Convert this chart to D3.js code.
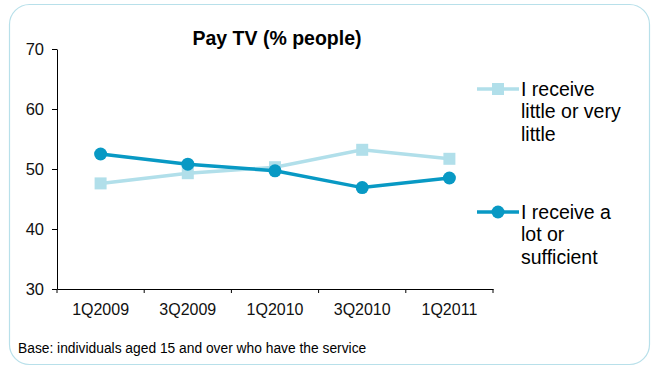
<!DOCTYPE html>
<html>
<head>
<meta charset="utf-8">
<script src="https://cdn.jsdelivr.net/npm/d3@7"></script>
<style>
  html, body { margin: 0; padding: 0; background: #fff; }
  svg { display: block; font-family: "Liberation Sans", Arial, sans-serif; }
</style>
</head>
<body>
<svg id="chart" width="651" height="367"></svg>
<script>
// Pay TV survey: share of people by perceived amount of service received
const periods = ["1Q2009", "3Q2009", "1Q2010", "3Q2010", "1Q2011"];
const littleValues = [47.6, 49.3, 50.3, 53.2, 51.7];
const lotValues = [52.5, 50.8, 49.7, 46.9, 48.5];
const seriesNames = [
  ["I receive", "little or very", "little"],
  ["I receive a", "lot or", "sufficient"]
];
const yTicks = [30, 40, 50, 60, 70];

const lightBlue = "#b1dfea";
const darkBlue = "#0899c4";

const svg = d3.select("#chart");

// rounded frame
svg.append("rect")
  .attr("x", 9.5).attr("y", 4.5)
  .attr("width", 640).attr("height", 360)
  .attr("rx", 20).attr("ry", 20)
  .attr("fill", "#fff")
  .attr("stroke", "#b8e0ea")
  .attr("stroke-width", 1.2);

const plot = { left: 57, right: 493, top: 49, bottom: 289 };

const x = d3.scaleBand().domain(periods).range([plot.left, plot.right]);
const y = d3.scaleLinear().domain([30, 70]).range([plot.bottom, plot.top]);
const cx = d => x(d) + x.bandwidth() / 2;

// axes
const yAxis = svg.append("g")
  .attr("transform", `translate(${plot.left},0)`)
  .call(d3.axisLeft(y).tickValues(yTicks).tickSize(5).tickSizeOuter(0).tickPadding(8));
const xAxis = svg.append("g")
  .attr("transform", `translate(0,${plot.bottom})`)
  .call(d3.axisBottom(x).tickSize(0).tickPadding(14.5));

// x ticks sit on band boundaries
const bounds = periods.map(p => x(p)).concat([plot.right]);
xAxis.selectAll(".bound").data(bounds).enter().append("line")
  .attr("x1", d => d).attr("x2", d => d)
  .attr("y1", 0).attr("y2", 4)
  .attr("stroke", "#000");

[xAxis, yAxis].forEach(g => {
  g.select(".domain").attr("stroke", "#000").attr("stroke-width", 1);
  g.selectAll(".tick line").attr("stroke", "#000");
  g.selectAll("text")
    .style("font-family", "'Liberation Sans', Arial, sans-serif")
    .style("font-size", "16px")
    .attr("fill", "#111");
});
yAxis.selectAll("text").style("font-size", "16.5px");

// title
svg.append("text")
  .attr("x", 277).attr("y", 44.5)
  .attr("text-anchor", "middle")
  .style("font-size", "19.5px").attr("font-weight", "bold")
  .text("Pay TV (% people)");

const line = d3.line().x((d, i) => cx(periods[i])).y(d => y(d));

// light series: squares
svg.append("path").datum(littleValues)
  .attr("d", line).attr("fill", "none")
  .attr("stroke", lightBlue).attr("stroke-width", 3.5);
svg.selectAll(".sq").data(littleValues).enter().append("rect")
  .attr("x", (d, i) => cx(periods[i]) - 6)
  .attr("y", d => y(d) - 6)
  .attr("width", 12).attr("height", 12)
  .attr("fill", lightBlue);

// dark series: circles
svg.append("path").datum(lotValues)
  .attr("d", line).attr("fill", "none")
  .attr("stroke", darkBlue).attr("stroke-width", 3.5);
svg.selectAll(".dot").data(lotValues).enter().append("circle")
  .attr("cx", (d, i) => cx(periods[i]))
  .attr("cy", d => y(d))
  .attr("r", 6.5)
  .attr("fill", darkBlue);

// legend
const legendRows = [
  { y: 89, color: lightBlue, shape: "square", lines: seriesNames[0] },
  { y: 212, color: darkBlue, shape: "circle", lines: seriesNames[1] }
];
legendRows.forEach(r => {
  const g = svg.append("g");
  g.append("line")
    .attr("x1", 477).attr("x2", 519)
    .attr("y1", r.y).attr("y2", r.y)
    .attr("stroke", r.color).attr("stroke-width", 3.5);
  if (r.shape === "square") {
    g.append("rect").attr("x", 492).attr("y", r.y - 6)
      .attr("width", 12).attr("height", 12).attr("fill", r.color);
  } else {
    g.append("circle").attr("cx", 498).attr("cy", r.y).attr("r", 6.5).attr("fill", r.color);
  }
  g.append("text")
    .attr("x", 521).attr("y", r.y + 6.5)
    .style("font-size", "19.5px").attr("fill", "#000")
    .selectAll("tspan").data(r.lines).enter().append("tspan")
    .attr("x", 521).attr("dy", (d, i) => i === 0 ? 0 : 22.5)
    .text(d => d);
});

// footnote
svg.append("text")
  .attr("x", 18).attr("y", 353)
  .style("font-size", "13.8px").attr("fill", "#000")
  .text("Base: individuals aged 15 and over who have the service");
</script>
</body>
</html>
